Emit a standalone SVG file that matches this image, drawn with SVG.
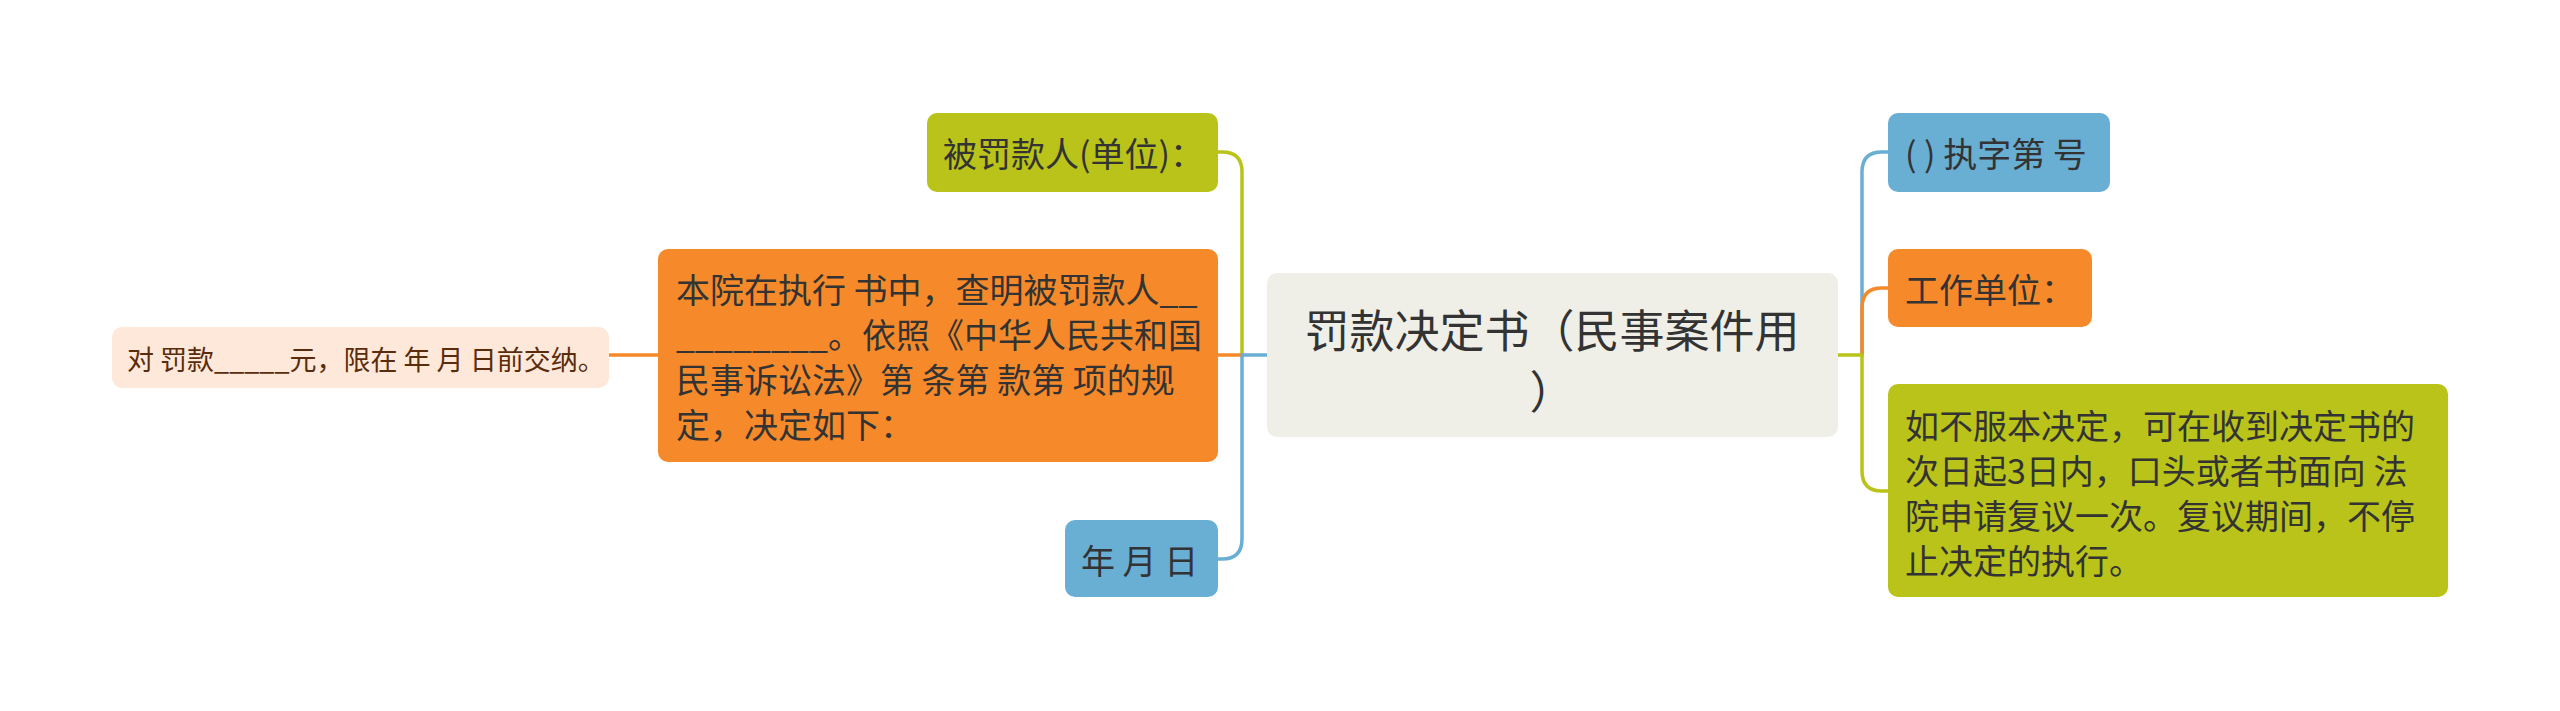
<svg xmlns="http://www.w3.org/2000/svg" width="2560" height="711" viewBox="0 0 2560 711">
<style>
text{font-family:"Noto Sans CJK SC","Liberation Sans",sans-serif;fill:#333333;dominant-baseline:central}
.t34{font-size:34px}
.t45{font-size:45px}
.t26{font-size:27px;fill:#5a2c0c}
.c{fill:none;stroke-width:3.5;stroke-linecap:round}
.g{stroke:#b9c31a}.o{stroke:#f68a2b}.b{stroke:#69aed3}
</style>
<rect width="2560" height="711" fill="#ffffff"/>
<g id="connectors">
<path class="c b" d="M1862 355 V172 Q1862 152 1882 152 H1890"/>
<path class="c o" d="M1862 355 V308 Q1862 288 1882 288 H1890"/>
<path class="c g" d="M1862 355 V471 Q1862 491 1882 491 H1890"/>
<path class="c g" d="M1838 355 H1862"/>
<path class="c g" d="M1242 355 V172 Q1242 152 1222 152 H1218"/>
<path class="c b" d="M1242 355 V539 Q1242 559 1222 559 H1218"/>
<path class="c o" d="M1242 355 H1218"/>
<path class="c b" d="M1267 355 H1242"/>
<path class="c o" d="M658 355 H609"/>
</g>
<g id="root">
<rect x="1267" y="273" width="571" height="164" rx="10" fill="#efefe8"/>
<text class="t45" x="1552" y="328" text-anchor="middle">罚款决定书（民事案件用</text>
<text class="t45" x="1552" y="389" text-anchor="middle">）</text>
</g>
<g id="r1">
<rect x="1888" y="113" width="222" height="79" rx="10" fill="#69aed3"/>
<text class="t34" x="1905" y="152">( ) 执字第 号</text>
</g>
<g id="r2">
<rect x="1888" y="249" width="204" height="78" rx="10" fill="#f68a2b"/>
<text class="t34" x="1905" y="288">工作单位：</text>
</g>
<g id="r3">
<rect x="1888" y="384" width="560" height="213" rx="10" fill="#b9c31a"/>
<text class="t34" x="1905" y="424">如不服本决定，可在收到决定书的</text>
<text class="t34" x="1905" y="469">次日起3日内，口头或者书面向 法</text>
<text class="t34" x="1905" y="514">院申请复议一次。复议期间，不停</text>
<text class="t34" x="1905" y="559">止决定的执行。</text>
</g>
<g id="l1">
<rect x="927" y="113" width="291" height="79" rx="10" fill="#b9c31a"/>
<text class="t34" x="943" y="152">被罚款人(单位)：</text>
</g>
<g id="l2">
<rect x="658" y="249" width="560" height="213" rx="10" fill="#f68a2b"/>
<text class="t34" x="676" y="288">本院在执行 书中，查明被罚款人__</text>
<text class="t34" x="676" y="333">________。依照《中华人民共和国</text>
<text class="t34" x="676" y="378">民事诉讼法》第 条第 款第 项的规</text>
<text class="t34" x="676" y="423">定，决定如下：</text>
</g>
<g id="l3">
<rect x="1065" y="520" width="153" height="77" rx="10" fill="#69aed3"/>
<text class="t34" x="1081" y="559">年 月 日</text>
</g>
<g id="l2a">
<rect x="112" y="327" width="497" height="61" rx="10" fill="#fde8d9"/>
<text class="t26" x="127" y="358">对 罚款_____元，限在 年 月 日前交纳。</text>
</g>
</svg>
